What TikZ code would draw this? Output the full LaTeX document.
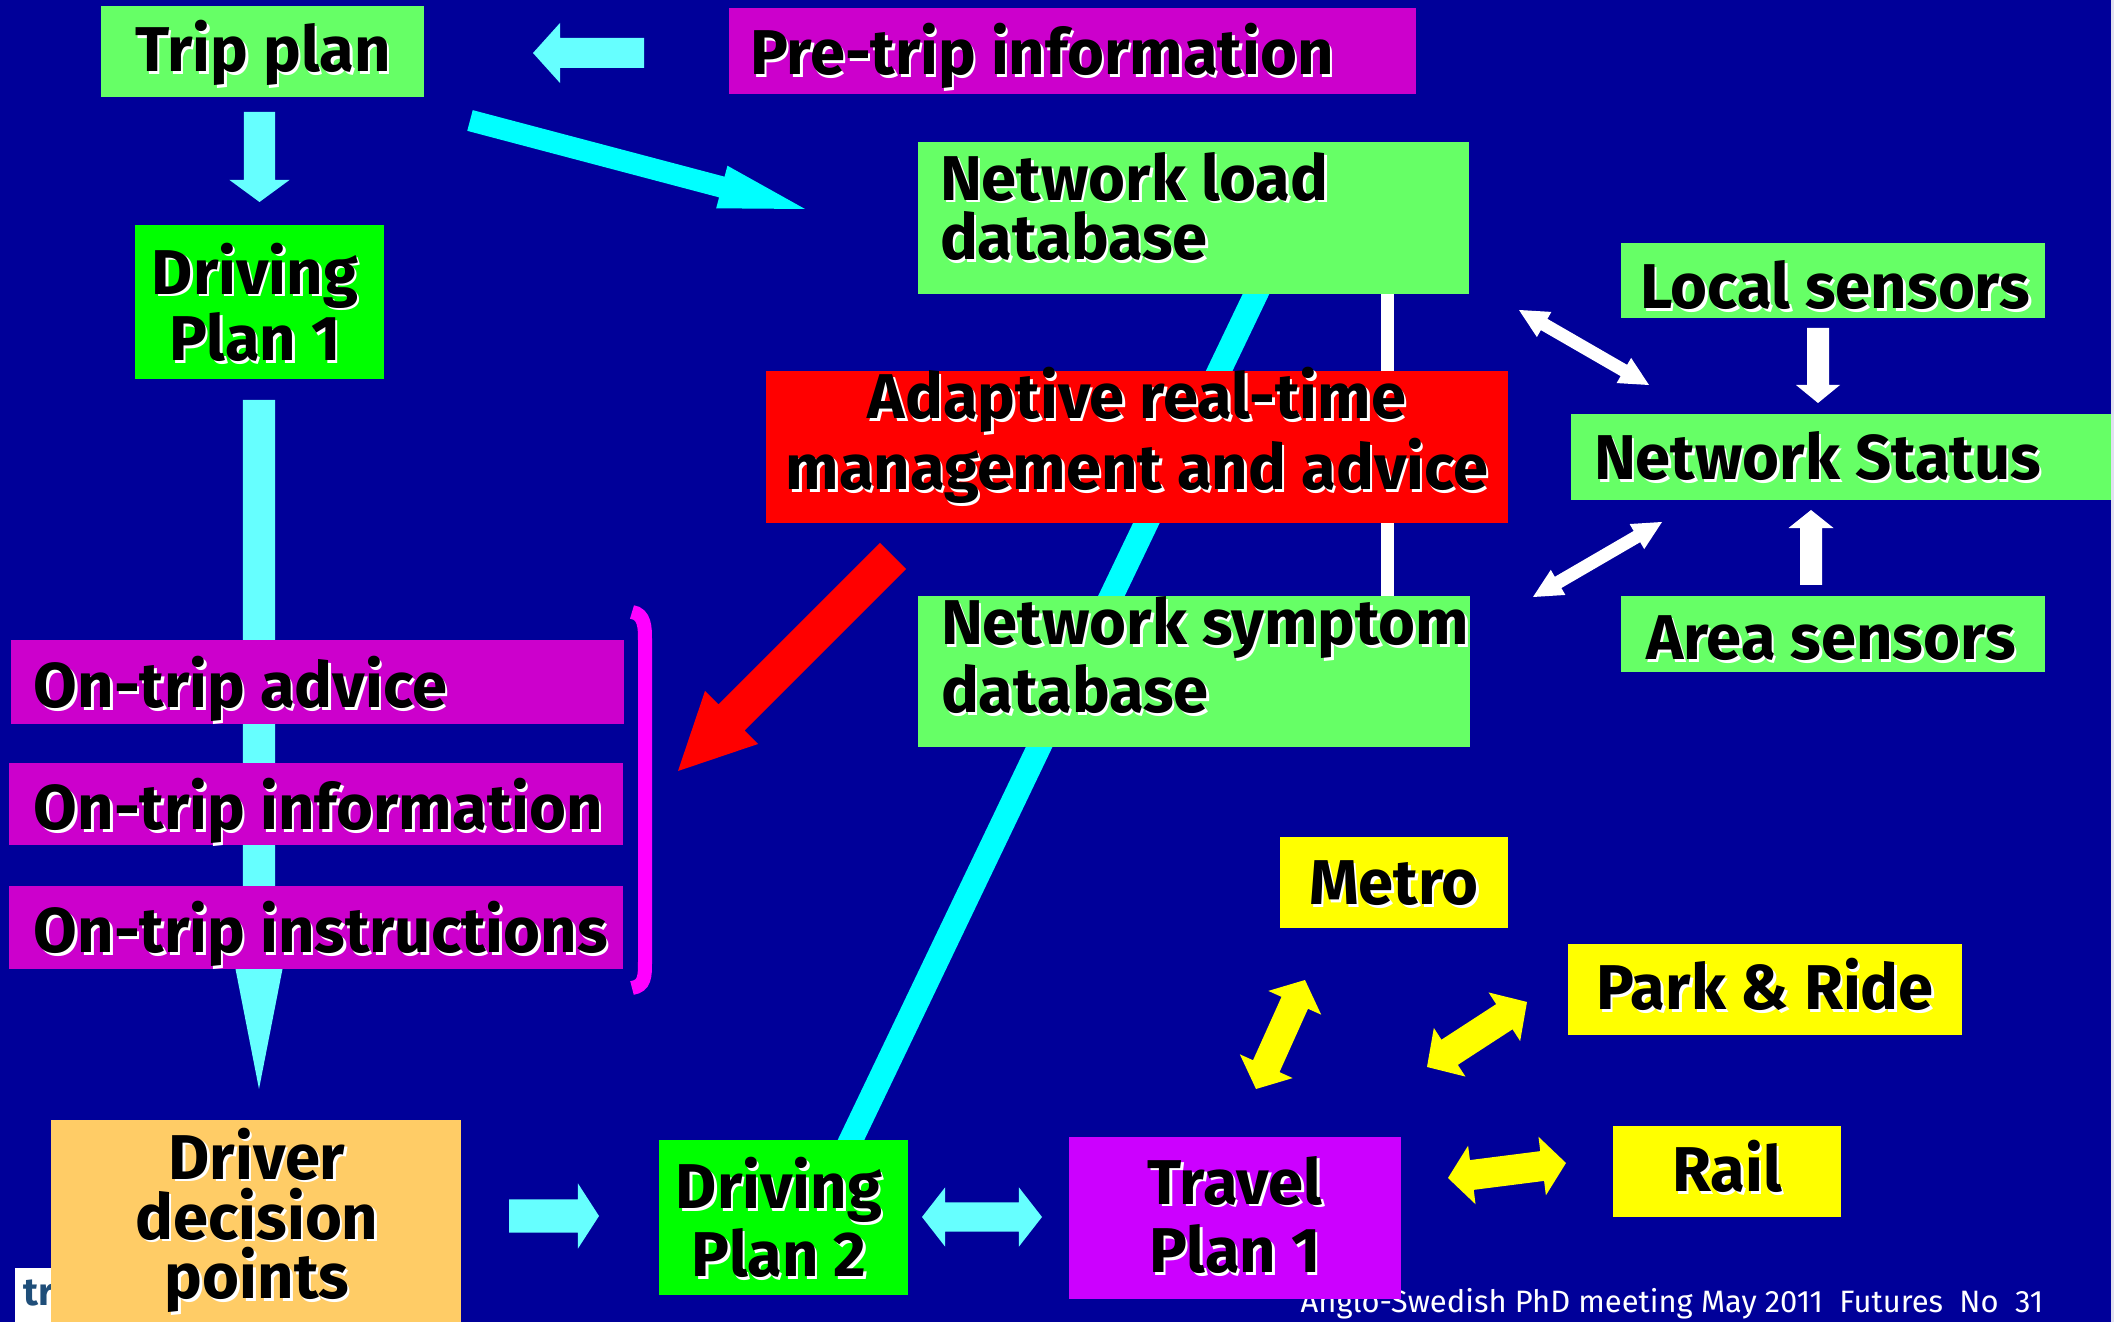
\documentclass[tikz,border=0pt]{standalone}
\usepackage{fontspec}
\setmainfont{Fira Sans}
\usetikzlibrary{calc,fit}

\definecolor{bg}{RGB}{0,0,153}
\definecolor{lgreen}{RGB}{102,255,102}
\definecolor{bgreen}{RGB}{0,255,0}
\definecolor{mag}{RGB}{204,0,204}
\definecolor{purp}{RGB}{204,0,255}
\definecolor{orng}{RGB}{255,204,102}
\definecolor{yel}{RGB}{255,255,0}
\definecolor{cyanA}{RGB}{0,255,255}
\definecolor{cyanB}{RGB}{102,255,255}
\definecolor{pinkbr}{RGB}{255,0,255}
\definecolor{logoblue}{RGB}{31,78,121}
\definecolor{edge}{RGB}{225,225,240}

% black lettering with a white drop shadow
\newcommand\shd[1]{\leavevmode\rlap{\kern0.7pt\raisebox{-0.7pt}{\color{white}#1}}#1}
\newcommand\bigtxt{\fontsize{18}{17}\selectfont\bfseries}

% block arrow: [style]{tail}{tip}{shaft half width}{head half width}{head length}
\newcommand\blockarrow[6][]{%
  \coordinate (ba-h) at ($(#3)!#6!(#2)$);
  \fill[#1] ($(#2)!#4!90:(#3)$) -- ($(ba-h)!#4!-90:(#2)$) -- ($(ba-h)!#5!-90:(#2)$)
    -- (#3) -- ($(ba-h)!#5!90:(#2)$) -- ($(ba-h)!#4!90:(#2)$) -- ($(#2)!#4!-90:(#3)$) -- cycle;}
% double-headed block arrow: [style]{end a}{end b}{shaft half width}{head half width}{head length}
\newcommand\dblarrow[6][]{%
  \coordinate (da-a) at ($(#2)!#6!(#3)$);
  \coordinate (da-b) at ($(#3)!#6!(#2)$);
  \fill[#1] (#2) -- ($(da-a)!#5!90:(#3)$) -- ($(da-a)!#4!90:(#3)$) -- ($(da-b)!#4!-90:(#2)$)
    -- ($(da-b)!#5!-90:(#2)$) -- (#3) -- ($(da-b)!#5!90:(#2)$) -- ($(da-b)!#4!90:(#2)$)
    -- ($(da-a)!#4!-90:(#3)$) -- ($(da-a)!#5!-90:(#3)$) -- cycle;}

\begin{document}
\begin{tikzpicture}[x=0.01cm, y=-0.01cm,
  box/.style={inner sep=0pt, outer sep=0pt, draw=none},
  lbl/.style={inner sep=0pt, outer sep=0pt, text=black, font=\bigtxt},
  lbll/.style={lbl, anchor=base west, align=left},
  lblc/.style={lbl, anchor=base, align=center}]
\useasboundingbox (0,0) rectangle (2114,1322);
\fill[bg] (0,0) rectangle (2114,1322);
\fill[edge] (2111,0) rectangle (2114,1322);

% links running behind the boxes
\coordinate (load-foot) at (1262.7,280);
\coordinate (plan2-head) at (841.4,1160);
\draw[cyanA, line width=0.24cm] (plan2-head) -- (load-foot);
\coordinate (db-top) at (1387,290);
\coordinate (db-bot) at (1387,600);
\draw[white, line width=0.13cm] (db-top) -- (db-bot);
\coordinate (dp1-out) at (259,400);
\coordinate (ddp-in) at (259,1089);
\blockarrow[cyanB]{dp1-out}{ddp-in}{0.16cm}{0.235cm}{1.2cm}

% logo strip and footer
\fill[white] (15,1268) rectangle (100,1322);
\node[anchor=base west, inner sep=0pt, text=logoblue, font=\fontsize{11}{11}\selectfont\bfseries] (logo) at (23,1306) {tra};
\node[anchor=base west, inner sep=0pt, text=white, font=\fontsize{8.8}{9}\selectfont] (footer) at (1300,1313) {Anglo-Swedish PhD meeting May 2011~ Futures~ No~ 31};

% boxes
\node[box, fill=lgreen, fit={(101,6) (424,97)}] (tripbox) {};
\node[box, fill=mag, fit={(729,8) (1416,94)}] (prebox) {};
\node[box, fill=lgreen, fit={(918,142) (1469,294)}] (loadbox) {};
\node[box, fill=bgreen, fit={(135,225) (384,379)}] (dp1box) {};
\node[box, fill=lgreen, fit={(1621,243) (2045,318)}] (localbox) {};
\node[box, fill=red, fit={(766,371) (1508,523)}] (atmbox) {};
\node[box, fill=lgreen, fit={(1571,414) (2111,500)}] (statusbox) {};
\node[box, fill=lgreen, fit={(918,596) (1470,747)}] (sympbox) {};
\node[box, fill=lgreen, fit={(1621,596) (2045,672)}] (areabox) {};
\node[box, fill=mag, fit={(11,640) (624,724)}] (advbox) {};
\node[box, fill=mag, fit={(9,763) (623,845)}] (infobox) {};
\node[box, fill=mag, fit={(9,886) (623,969)}] (instbox) {};
\node[box, fill=yel, fit={(1280,837) (1508,928)}] (metrobox) {};
\node[box, fill=yel, fit={(1568,944) (1962,1035)}] (prbox) {};
\node[box, fill=yel, fit={(1613,1126) (1841,1217)}] (railbox) {};
\node[box, fill=orng, fit={(51,1120) (461,1322)}] (ddpbox) {};
\node[box, fill=bgreen, fit={(659,1140) (908,1295)}] (dp2box) {};
\node[box, fill=purp, fit={(1069,1137) (1401,1299)}] (tp1box) {};

% labels (multi-line labels are anchored on their last baseline)
\node[lblc] (trip) at (263,72) {\shd{Trip plan}};
\node[lbll] (pre) at (750,75) {\shd{Pre-trip information}};
\node[lbll] (load) at (940,260) {\shd{Network load}\\\shd{database}};
\node[lblc, font=\fontsize{18}{19}\selectfont\bfseries] (dp1) at (255,361) {\shd{Driving}\\\shd{Plan 1}};
\node[lbll] (local) at (1640,309) {\shd{Local sensors}};
\node[lblc] (atm) at (1137,490) {\shd{Adaptive real-time}\\\shd{management and advice}};
\node[lbll] (status) at (1594,480) {\shd{Network Status}};
\node[lbll] (symp) at (941,713) {\shd{Network symptom}\\\shd{database}};
\node[lbll] (area) at (1646,660) {\shd{Area sensors}};
\node[lbll] (adv) at (34,708) {\shd{On-trip advice}};
\node[lbll] (info) at (34,830) {\shd{On-trip information}};
\node[lbll] (inst) at (34,953) {\shd{On-trip instructions}};
\node[lblc] (metro) at (1394,905) {\shd{Metro}};
\node[lblc] (pr) at (1765,1010) {\shd{Park \& Ride}};
\node[lblc] (rail) at (1727,1192) {\shd{Rail}};
\node[lblc] (ddp) at (257,1299) {\shd{Driver}\\\shd{decision}\\\shd{points}};
\node[lblc, font=\fontsize{18}{19.4}\selectfont\bfseries] (dp2) at (779,1277) {\shd{Driving}\\\shd{Plan 2}};
\node[lblc, font=\fontsize{18}{19.6}\selectfont\bfseries] (tp1) at (1235,1273) {\shd{Travel}\\\shd{Plan 1}};

% arrows
\coordinate (pre-out) at (644,53);
\coordinate (trip-in) at (533,53);
\blockarrow[cyanB]{pre-out}{trip-in}{0.15cm}{0.30cm}{0.27cm}
\coordinate (trip-down) at (259.5,112);
\coordinate (dp1-in) at (259.5,202);
\blockarrow[cyanB]{trip-down}{dp1-in}{0.155cm}{0.30cm}{0.22cm}
\coordinate (trip-out) at (470,120.5);
\coordinate (load-in) at (805,209);
\blockarrow[cyanA]{trip-out}{load-in}{0.107cm}{0.22cm}{0.86cm}
\coordinate (atm-out) at (893,556);
\coordinate (ontrip-in) at (678,771);
\blockarrow[red]{atm-out}{ontrip-in}{0.184cm}{0.375cm}{0.757cm}

% bracket grouping the on-trip services
\draw[pinkbr, line width=0.14cm] (632,612) .. controls (645,614) and (645,628) .. (645,640)
  -- (645,962) .. controls (645,976) and (645,986) .. (632,988);

% sensor / status links
\coordinate (load-east) at (1519,310);
\coordinate (status-nw) at (1649,385);
\dblarrow[white]{load-east}{status-nw}{0.065cm}{0.145cm}{0.29cm}
\coordinate (symp-east) at (1533,597);
\coordinate (status-sw) at (1662,522);
\dblarrow[white]{symp-east}{status-sw}{0.065cm}{0.145cm}{0.29cm}
\coordinate (local-out) at (1818,328);
\coordinate (status-in1) at (1818,403);
\blockarrow[white]{local-out}{status-in1}{0.11cm}{0.22cm}{0.18cm}
\coordinate (area-out) at (1811,585);
\coordinate (status-in2) at (1811,510);
\blockarrow[white]{area-out}{status-in2}{0.11cm}{0.225cm}{0.18cm}

% bottom row
\coordinate (ddp-out) at (509,1216);
\coordinate (dp2-in) at (599,1216);
\blockarrow[cyanB]{ddp-out}{dp2-in}{0.165cm}{0.325cm}{0.21cm}
\coordinate (dp2-east) at (922,1217);
\coordinate (tp1-west) at (1042,1217);
\dblarrow[cyanB]{dp2-east}{tp1-west}{0.145cm}{0.295cm}{0.23cm}

% travel alternatives
\coordinate (tp1-n) at (1256,1089);
\coordinate (metro-s) at (1305,980);
\dblarrow[yel]{tp1-n}{metro-s}{0.145cm}{0.29cm}{0.25cm}
\coordinate (tp1-ne) at (1427,1067);
\coordinate (pr-sw) at (1527,1002);
\dblarrow[yel]{tp1-ne}{pr-sw}{0.15cm}{0.29cm}{0.27cm}
\coordinate (tp1-e) at (1448,1178);
\coordinate (rail-w) at (1566,1163);
\dblarrow[yel]{tp1-e}{rail-w}{0.15cm}{0.295cm}{0.24cm}
\end{tikzpicture}
\end{document}
